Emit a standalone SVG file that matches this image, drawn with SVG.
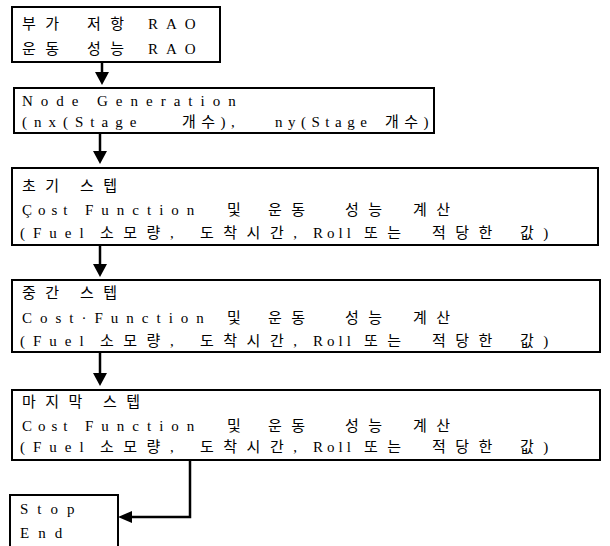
<svg xmlns="http://www.w3.org/2000/svg" width="610" height="546" viewBox="0 0 610 546">
<style>
.box{fill:#fff;stroke:#000;stroke-width:2}
.t{font-family:"Liberation Serif","Noto Sans CJK KR",serif;font-size:15px;letter-spacing:8px;fill:#000}
.k{letter-spacing:9.5px}
.r{letter-spacing:4px}
.c{letter-spacing:6px}
.n{letter-spacing:7px}
.g{letter-spacing:5.5px}
.ln{stroke:#000;stroke-width:2.5;fill:none}
.ah{fill:#000}
</style>
<rect width="610" height="546" fill="#fff"/>
<g id="connectors">
<line class="ln" x1="102" y1="62" x2="102" y2="74"/><polygon class="ah" points="95,72 109,72 102,85"/>
<line class="ln" x1="100" y1="133" x2="100" y2="153"/><polygon class="ah" points="93,151 107,151 100,164"/>
<line class="ln" x1="100" y1="245" x2="100" y2="266"/><polygon class="ah" points="93,264 107,264 100,277"/>
<line class="ln" x1="100" y1="352" x2="100" y2="375"/><polygon class="ah" points="93,373 107,373 100,386"/>
<polyline class="ln" points="190,460 190,517 130,517"/><polygon class="ah" points="132,511 132,523 118,517"/>
</g>
<g id="n1">
<rect class="box" x="12" y="7" width="208" height="55"/>
<text class="t" y="29"><tspan class="k" x="22">부가</tspan><tspan class="k" x="87">저항</tspan><tspan x="148">RAO</tspan></text>
<text class="t" y="54"><tspan class="k" x="22">운동</tspan><tspan class="k" x="87">성능</tspan><tspan x="148">RAO</tspan></text>
</g>
<g id="n2">
<rect class="box" x="14" y="88" width="420" height="45"/>
<text class="t" y="106"><tspan x="22">Node</tspan><tspan x="97">Generation</tspan></text>
<text class="t n" y="127"><tspan x="22">(nx(Stage</tspan><tspan class="g" x="182">개수),</tspan><tspan class="g" x="275">ny(Stage</tspan><tspan class="g" x="385">개수)</tspan></text>
</g>
<g id="n3">
<rect class="box" x="12" y="168" width="586" height="77"/>
<text class="t" y="191"><tspan class="k" x="22">초기</tspan><tspan class="k" x="80">스텝</tspan></text>
<text class="t" y="215"><tspan class="c" x="22">Çost</tspan><tspan x="85">Function</tspan><tspan x="227">및</tspan><tspan class="k" x="268">운동</tspan><tspan class="k" x="345">성능</tspan><tspan class="k" x="413">계산</tspan></text>
<text class="t" y="238"><tspan x="20">(Fuel</tspan><tspan class="k" x="100">소모량,</tspan><tspan class="k" x="200">도착시간,</tspan><tspan class="r" x="313">Roll</tspan><tspan class="k" x="364">또는</tspan><tspan class="k" x="432">적당한</tspan><tspan class="k" x="520">값)</tspan></text>
</g>
<g id="n4">
<rect class="box" x="12" y="280" width="588" height="72"/>
<text class="t" y="298"><tspan class="k" x="22">중간</tspan><tspan class="k" x="80">스텝</tspan></text>
<text class="t" y="323"><tspan x="22">Cost·Function</tspan><tspan x="227">및</tspan><tspan class="k" x="268">운동</tspan><tspan class="k" x="345">성능</tspan><tspan class="k" x="413">계산</tspan></text>
<text class="t" y="346"><tspan x="20">(Fuel</tspan><tspan class="k" x="100">소모량,</tspan><tspan class="k" x="200">도착시간,</tspan><tspan class="r" x="313">Roll</tspan><tspan class="k" x="364">또는</tspan><tspan class="k" x="432">적당한</tspan><tspan class="k" x="520">값)</tspan></text>
</g>
<g id="n5">
<rect class="box" x="12" y="390" width="588" height="70"/>
<text class="t" y="407"><tspan class="k" x="22">마지막</tspan><tspan class="k" x="103">스텝</tspan></text>
<text class="t" y="431"><tspan class="c" x="22">Cost</tspan><tspan x="85">Function</tspan><tspan x="227">및</tspan><tspan class="k" x="268">운동</tspan><tspan class="k" x="345">성능</tspan><tspan class="k" x="413">계산</tspan></text>
<text class="t" y="452"><tspan x="20">(Fuel</tspan><tspan class="k" x="100">소모량,</tspan><tspan class="k" x="200">도착시간,</tspan><tspan class="r" x="313">Roll</tspan><tspan class="k" x="364">또는</tspan><tspan class="k" x="432">적당한</tspan><tspan class="k" x="520">값)</tspan></text>
</g>
<g id="n6">
<rect class="box" x="10" y="495" width="108" height="60"/>
<text class="t" y="514" style="letter-spacing:9px"><tspan x="20">Stop</tspan></text>
<text class="t" y="538" style="letter-spacing:9px"><tspan x="20">End</tspan></text>
</g>
</svg>
